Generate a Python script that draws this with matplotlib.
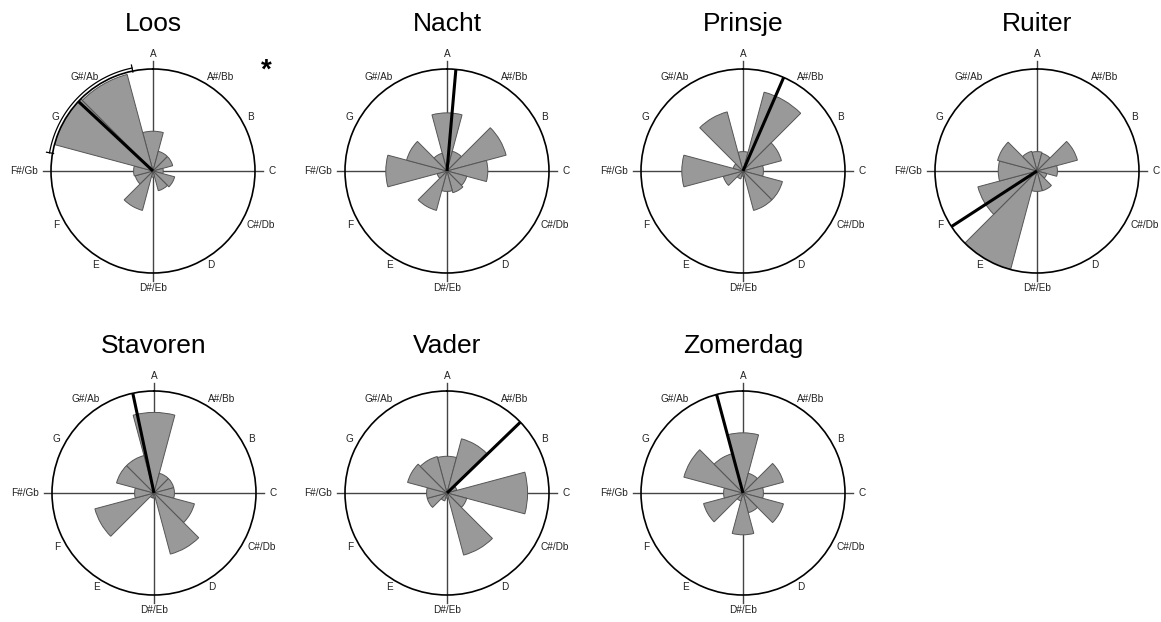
import numpy as np
import matplotlib
matplotlib.use("Agg")
import matplotlib.pyplot as plt

# === DATA ===
notes = ['A', 'A#/Bb', 'B', 'C', 'C#/Db', 'D', 'D#/Eb', 'E', 'F', 'F#/Gb', 'G', 'G#/Ab']

loos     = [0.39, 0.20, 0.20, 0.10, 0.22, 0.20, 0.06, 0.40, 0.18, 0.19, 1.00, 0.98]
nacht    = [0.57, 0.20, 0.60, 0.40, 0.20, 0.22, 0.20, 0.40, 0.10, 0.60, 0.41, 0.18]
prinsje  = [0.19, 0.80, 0.39, 0.20, 0.40, 0.40, 0.05, 0.08, 0.20, 0.60, 0.10, 0.60]
ruiter   = [0.19, 0.18, 0.41, 0.20, 0.10, 0.20, 0.20, 1.00, 0.60, 0.38, 0.40, 0.20]
stavoren = [0.79, 0.20, 0.20, 0.20, 0.41, 0.62, 0.05, 0.05, 0.60, 0.19, 0.38, 0.38]
vader    = [0.36, 0.55, 0.10, 0.79, 0.20, 0.63, 0.05, 0.08, 0.20, 0.20, 0.40, 0.37]
zomerdag = [0.59, 0.20, 0.41, 0.20, 0.41, 0.20, 0.41, 0.08, 0.40, 0.19, 0.60, 0.40]

songs = ['Loos', 'Nacht', 'Prinsje', 'Ruiter', 'Stavoren', 'Vader', 'Zomerdag']
values = [loos, nacht, prinsje, ruiter, stavoren, vader, zomerdag]
mean_dir = [313, 5, 23.5, 237, 348, 46, 345]   # degrees clockwise from A
loos_ci = (280, 348.5)                          # confidence arc for Loos

# === LAYOUT (pixel centres of each circle) ===
W, H = 1161, 622
R = 102
centres = [(153, 171), (447, 171), (743, 171), (1037, 171),
           (154, 493), (447, 493), (743, 493)]

plt.rcParams['font.family'] = ['Liberation Sans', 'DejaVu Sans']
fig = plt.figure(figsize=(W / 100, H / 100), dpi=100)

theta = np.deg2rad(np.arange(12) * 30)

for song, vals, md, (cx, cy) in zip(songs, values, mean_dir, centres):
    ax = fig.add_axes([(cx - R) / W, (H - cy - R) / H, 2 * R / W, 2 * R / H],
                      projection='polar')
    ax.set_theta_zero_location('N')
    ax.set_theta_direction(-1)
    ax.set_ylim(0, 1)
    ax.grid(False)
    ax.set_xticks([])
    ax.set_yticks([])
    ax.spines['polar'].set_linewidth(1.2)
    ax.spines['polar'].set_color('black')

    # cross lines through the centre
    for a in [0, 90, 180, 270]:
        ax.plot([np.deg2rad(a)] * 2, [0, 1.08], color='#444444', lw=1.0,
                clip_on=False, zorder=1)

    ax.bar(theta, vals, width=np.deg2rad(30), bottom=0, color='#999999',
           edgecolor='#555555', linewidth=0.7, zorder=2)

    ax.plot([np.deg2rad(md)] * 2, [0, 1.0], color='black', lw=2.2,
            zorder=3, solid_capstyle='butt')

    # note labels around the circle
    for i, n in enumerate(notes):
        deg = i * 30
        r = 1.06
        if deg == 0:
            ha, va, r = 'center', 'bottom', 1.1
        elif deg == 180:
            ha, va, r = 'center', 'top', 1.1
        elif deg < 180:
            ha, va = 'left', 'center'
        else:
            ha, va = 'right', 'center'
        if deg in (90, 270):
            r = 1.13
        ax.text(theta[i], r, n, ha=ha, va=va, fontsize=7.2,
                color='#222222', clip_on=False)

    if song == 'Loos':
        arc = np.deg2rad(np.linspace(loos_ci[0], loos_ci[1], 80))
        ax.plot(arc, np.full_like(arc, 1.03), color='black', lw=0.9,
                clip_on=False, zorder=4)
        for e in loos_ci:
            ax.plot([np.deg2rad(e)] * 2, [0.99, 1.06], color='black', lw=0.9,
                    clip_on=False, zorder=4)

    fig.text(cx / W, 1 - (cy - 147) / H, song, ha='center', va='center',
             fontsize=19)

fig.text(266 / W, 1 - 71 / H, '*', ha='center', va='center', fontsize=20,
         fontweight='bold')

fig.savefig('out.png', dpi=100)
